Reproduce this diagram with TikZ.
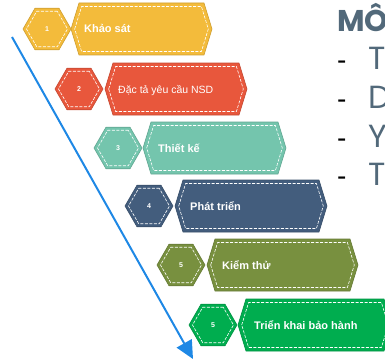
\documentclass[tikz,border=0pt]{standalone}
\usepackage{fontspec}
\setmainfont{Liberation Sans}
\newfontfamily\titlefont{Poppins}
\usepackage{xcolor}
\usepackage{tikz}
\usetikzlibrary{shapes.geometric,arrows.meta}

\definecolor{khaosat}{HTML}{F3BB3B}
\definecolor{dacta}{HTML}{E8573C}
\definecolor{thietke}{HTML}{74C5AD}
\definecolor{phattrien}{HTML}{435D7D}
\definecolor{kiemthu}{HTML}{78903F}
\definecolor{trienkhai}{HTML}{00AD4F}
\definecolor{arrowblue}{HTML}{1E88E5}
\definecolor{slate}{HTML}{52697A}

\begin{document}
\begin{tikzpicture}[x=1pt,y=-1pt]
\tikzstyle{every node}=[font=\small]
\tikzstyle{hexa}=[regular polygon, regular polygon sides=6, minimum size=48pt, inner sep=0pt, line width=0.6pt, text=white, font=\fontsize{7}{8}\selectfont\bfseries]
\tikzstyle{hexin}=[regular polygon, regular polygon sides=6, minimum size=41pt, inner sep=0pt, draw=white, line width=0.6pt, dash pattern=on 3pt off 1.5pt]
\tikzstyle{stitch}=[draw=white, line width=0.6pt, dash pattern=on 3pt off 1.5pt]
\tikzstyle{stagetext}=[anchor=base west, inner sep=0pt, text=white, font=\fontsize{11}{13}\selectfont\bfseries]
\tikzstyle{bigtext}=[anchor=base west, inner sep=0pt, text=slate]

\useasboundingbox (0,0) rectangle (385,361);

% Draw the blue arrow
\coordinate (start) at (12,37);
\coordinate (end) at (193,359);
\draw[arrowblue, line width=2pt, -{Triangle[length=18pt,width=17pt]}] (start) -- (end);

% Draw stages: long hexagon, small hexagon with number
\foreach \k/\col/\hx/\lx/\rx/\y/\num in {1/khaosat/47/71/212/29/1, 2/dacta/79/105/247/89/2, 3/thietke/118/143/286/148/3, 4/phattrien/149/175/327/206/4, 5/kiemthu/181/207/358/265/5, 6/trienkhai/213/238/392/325/5} {
    \draw[fill=\col, draw=\col!85!black, line width=0.6pt] (\lx,\y) -- (\lx+8,\y-26) -- (\rx-8,\y-26) -- (\rx,\y) -- (\rx-8,\y+26) -- (\lx+8,\y+26) -- cycle;
    \draw[stitch] (\lx+3.7,\y) -- (\lx+10.6,\y-22.5) -- (\rx-10.6,\y-22.5) -- (\rx-3.7,\y) -- (\rx-10.6,\y+22.5) -- (\lx+10.6,\y+22.5) -- cycle;
    \node[hexa, fill=\col, draw=\col!85!black] (hex\k) at (\hx,\y) {\num};
    \node[hexin] (hexin\k) at (hex\k) {};
}

% Add stage labels
\node[stagetext] (t1) at (84,33) {Khảo sát};
\node[stagetext, font=\fontsize{10.5}{12}\selectfont] (t2) at (118,93) {Đặc tả yêu cầu NSD};
\node[stagetext] (t3) at (158,152) {Thiết kế};
\node[stagetext] (t4) at (190,210) {Phát triển};
\node[stagetext] (t5) at (222,269) {Kiểm thử};
\node[stagetext] (t6) at (254,329) {Triển khai bảo hành};

% Title and list on the right
\node[bigtext, font=\titlefont\bfseries\fontsize{30}{36}\selectfont] (title) at (337,32) {MÔ};
\foreach \k/\y/\ch in {1/70/T, 2/108.5/D, 3/147/Y, 4/185.5/T} {
    \node[anchor=base west, inner sep=0pt, font=\fontsize{28}{30}\selectfont] (dash\k) at (337,\y) {-};
    \node[bigtext, font=\titlefont\fontsize{32}{36}\selectfont] (item\k) at (368,\y) {\ch};
}

\end{tikzpicture}
\end{document}
